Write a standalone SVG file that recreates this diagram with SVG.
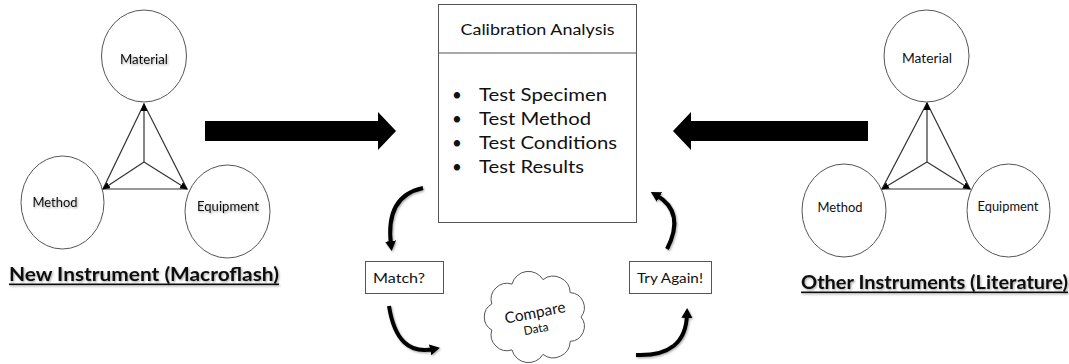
<svg xmlns="http://www.w3.org/2000/svg" width="1069" height="364" viewBox="0 0 1069 364">
<style>
.circ{fill:#fff;stroke:#555;stroke-width:1}
.box{fill:#fff;stroke:#555;stroke-width:1}
.lbl{font-family:Lato,"Liberation Sans",sans-serif;font-size:12.5px;fill:#111;text-anchor:middle}
.ttl{font-family:Lato,"Liberation Sans",sans-serif;font-size:18px;font-weight:bold;fill:#111}
.txt{font-family:Lato,"Liberation Sans",sans-serif;fill:#111}
.tri{stroke:#333;stroke-width:1.2;fill:none}
.curv{stroke:#000;stroke-width:4;fill:none}
</style>
<defs>
<marker id="th" markerUnits="userSpaceOnUse" markerWidth="8" markerHeight="8" refX="7" refY="4" orient="auto"><path d="M0,0.5 L8,4 L0,7.5 z" fill="#000"/></marker>
<marker id="ch" markerUnits="userSpaceOnUse" markerWidth="12" markerHeight="12" refX="4" refY="6" orient="auto"><path d="M0,0.5 L10,6 L0,11.5 z" fill="#000"/></marker>
<filter id="sh" x="-20%" y="-30%" width="140%" height="170%"><feDropShadow dx="1" dy="1.2" stdDeviation="1" flood-color="#000" flood-opacity="0.35"/></filter>
</defs>

<g id="connectors">
<!-- left triangle -->
<path class="tri" d="M144,104 L103,189 L187,189 Z"/>
<line class="tri" x1="144" y1="162" x2="144" y2="104" marker-end="url(#th)"/>
<line class="tri" x1="144" y1="162" x2="103" y2="189" marker-end="url(#th)"/>
<line class="tri" x1="144" y1="162" x2="187" y2="189" marker-end="url(#th)"/>
<!-- right triangle -->
<path class="tri" d="M927,103 L882,189 L970,189 Z"/>
<line class="tri" x1="927" y1="162" x2="927" y2="103" marker-end="url(#th)"/>
<line class="tri" x1="927" y1="162" x2="882" y2="189" marker-end="url(#th)"/>
<line class="tri" x1="927" y1="162" x2="970" y2="189" marker-end="url(#th)"/>
<!-- block arrows -->
<polygon points="205,121 378,121 378,112 396,131 378,150 378,141 205,141" fill="#000"/>
<polygon points="868,121 691,121 691,112 673,131 691,150 691,141 868,141" fill="#000"/>
<!-- curved arrows -->
<g filter="url(#sh)">
<path class="curv" d="M423,188 Q385,196 391,245" marker-end="url(#ch)"/>
<path class="curv" d="M667,249 Q686,212 656,195" marker-end="url(#ch)"/>
<path class="curv" d="M389,306 Q397,357 434,349" marker-end="url(#ch)"/>
<path class="curv" d="M636,355 Q686,357 687,314" marker-end="url(#ch)"/>
</g>
</g>

<g id="node-material-left">
<ellipse class="circ" cx="144" cy="56" rx="42.5" ry="46"/>
<text class="lbl" x="144" y="64" filter="url(#sh)" textLength="48" lengthAdjust="spacingAndGlyphs">Material</text>
</g>
<g id="node-method-left">
<ellipse class="circ" cx="62.5" cy="202.5" rx="41.5" ry="46.5"/>
<text class="lbl" x="55" y="207" filter="url(#sh)" textLength="45" lengthAdjust="spacingAndGlyphs">Method</text>
</g>
<g id="node-equipment-left">
<ellipse class="circ" cx="227.5" cy="211.5" rx="42.5" ry="46.5"/>
<text class="lbl" x="228" y="211" filter="url(#sh)" textLength="62" lengthAdjust="spacingAndGlyphs">Equipment</text>
</g>
<g id="title-left" filter="url(#sh)">
<text class="ttl" x="9" y="281" textLength="270" lengthAdjust="spacingAndGlyphs">New Instrument (Macroflash)</text>
<rect x="9" y="283.5" width="270" height="1.6" fill="#111"/>
</g>

<g id="node-material-right">
<ellipse class="circ" cx="926.5" cy="56" rx="42.5" ry="46"/>
<text class="lbl" x="927" y="63" textLength="50" lengthAdjust="spacingAndGlyphs">Material</text>
</g>
<g id="node-method-right">
<ellipse class="circ" cx="844" cy="210.5" rx="42" ry="46.5"/>
<text class="lbl" x="840" y="212" textLength="45" lengthAdjust="spacingAndGlyphs">Method</text>
</g>
<g id="node-equipment-right">
<ellipse class="circ" cx="1008.5" cy="210.5" rx="41.5" ry="46.5"/>
<text class="lbl" x="1008" y="211" textLength="61" lengthAdjust="spacingAndGlyphs">Equipment</text>
</g>
<g id="title-right" filter="url(#sh)">
<text class="ttl" x="801" y="289" textLength="267" lengthAdjust="spacingAndGlyphs">Other Instruments (Literature)</text>
<rect x="801" y="291.5" width="267" height="1.6" fill="#111"/>
</g>

<g id="node-calibration">
<rect class="box" x="438.5" y="4.5" width="198" height="218"/>
<line x1="438.5" y1="53" x2="636.5" y2="53" stroke="#555" stroke-width="1"/>
<text class="txt" x="537.5" y="35" font-size="15" text-anchor="middle" textLength="154" lengthAdjust="spacingAndGlyphs">Calibration Analysis</text>
<g class="txt" font-size="17">
<text x="452" y="101">•</text><text x="479" y="101" textLength="128" lengthAdjust="spacingAndGlyphs">Test Specimen</text>
<text x="452" y="125">•</text><text x="479" y="125" textLength="112" lengthAdjust="spacingAndGlyphs">Test Method</text>
<text x="452" y="149">•</text><text x="479" y="149" textLength="138" lengthAdjust="spacingAndGlyphs">Test Conditions</text>
<text x="452" y="173">•</text><text x="479" y="173" textLength="105" lengthAdjust="spacingAndGlyphs">Test Results</text>
</g>
</g>

<g id="node-match">
<rect class="box" x="365.5" y="261.5" width="78" height="32"/>
<text class="txt" x="399" y="283" font-size="14" text-anchor="middle" textLength="52" lengthAdjust="spacingAndGlyphs">Match?</text>
</g>
<g id="node-try-again">
<rect class="box" x="629.5" y="261.5" width="82" height="32"/>
<text class="txt" x="670" y="283" font-size="14" text-anchor="middle" textLength="66" lengthAdjust="spacingAndGlyphs">Try Again!</text>
</g>

<g id="node-compare">
<path fill="#fff" stroke="#555" stroke-width="1" d="M581,317 A15,15 0 0 1 570.2,341.4 A17,17 0 0 1 543,354.4 A17,17 0 0 1 512,349.9 A16,16 0 0 1 491.8,330 A15,15 0 0 1 491.8,304 A16,16 0 0 1 512,284.1 A17,17 0 0 1 543,279.6 A17,17 0 0 1 570.2,292.6 A15,15 0 0 1 581,317 Z"/>
<text class="txt" x="535" y="318" font-size="15.5" text-anchor="middle" transform="rotate(-11 535 313)">Compare</text>
<text class="txt" x="536" y="333" font-size="12" text-anchor="middle" transform="rotate(-11 536 329)">Data</text>
</g>
</svg>
